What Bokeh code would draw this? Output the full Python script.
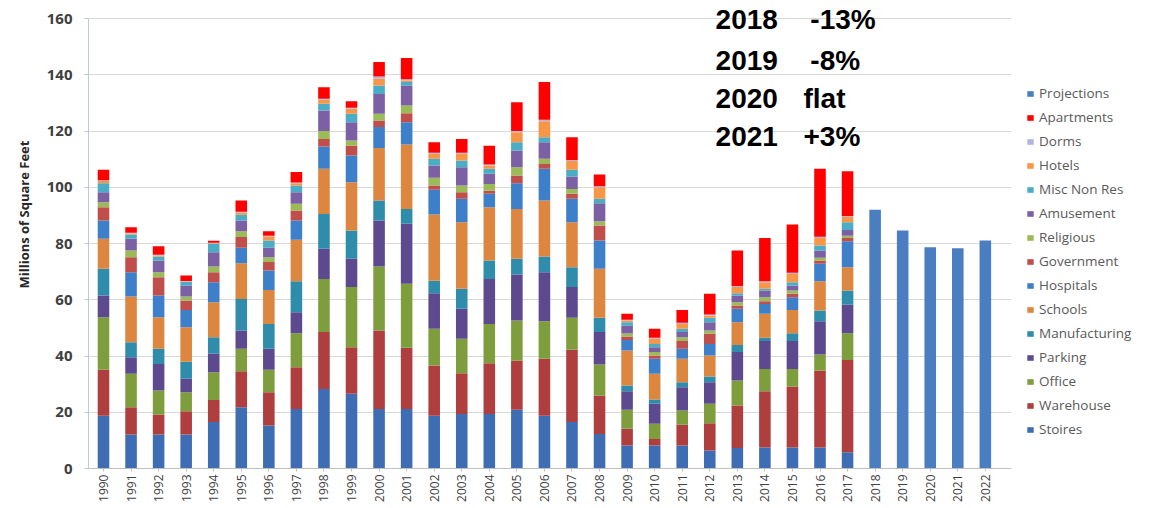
from bokeh.plotting import figure
from bokeh.models import (ColumnDataSource, Legend, LegendItem, Label, Range1d,
                          FixedTicker, BoxAnnotation, Title)
from bokeh.embed import file_html
from bokeh.resources import INLINE
from math import pi

years = list(range(1990, 2023))
hist_years = list(range(1990, 2018))
proj_years = [2018, 2019, 2020, 2021, 2022]
tick_labels = {y: str(y) for y in years}

# Millions of square feet per category, 1990-2017
stoires = [18.8, 12.1, 12.1, 12.1, 16.5, 21.8, 15.3, 21.2, 28.3, 26.6, 21.2, 21.2, 18.8, 19.4,
           19.4, 20.9, 18.8, 16.5, 12.3, 8.2, 8.2, 8.2, 6.4, 7.3, 7.5, 7.5, 7.5, 5.8]
warehouse = [16.3, 9.7, 7.1, 8.3, 7.9, 12.8, 11.8, 14.8, 20.2, 16.5, 27.9, 21.7, 17.8, 14.5,
             18.0, 17.5, 20.2, 25.7, 13.7, 5.9, 2.3, 7.4, 9.7, 15.1, 20.0, 21.7, 27.3, 32.8]
office = [18.7, 11.9, 8.5, 6.7, 9.8, 8.0, 8.0, 12.1, 18.9, 21.4, 22.7, 22.8, 13.1, 12.2,
          14.0, 14.2, 13.4, 11.4, 11.0, 6.8, 5.4, 5.0, 6.9, 8.9, 7.9, 6.2, 5.7, 9.5]
parking = [7.7, 5.9, 9.5, 4.8, 6.6, 6.5, 7.5, 7.5, 10.7, 10.1, 16.4, 21.3, 12.6, 10.7,
           16.0, 16.4, 17.4, 10.9, 11.5, 6.6, 7.1, 8.3, 7.7, 10.1, 9.9, 9.9, 11.9, 10.2]
manufacturing = [9.5, 5.3, 5.4, 6.1, 5.9, 11.2, 8.8, 11.0, 12.4, 10.0, 7.1, 5.3, 4.5, 7.1,
                 6.6, 5.6, 5.6, 7.1, 5.1, 2.0, 1.5, 1.8, 2.0, 2.5, 1.2, 2.8, 3.8, 5.0]
schools = [10.7, 16.3, 11.2, 12.2, 12.4, 12.7, 12.1, 14.7, 16.1, 17.2, 18.7, 22.9, 23.5, 23.7,
           18.9, 17.7, 19.9, 16.0, 17.4, 12.5, 9.2, 8.3, 7.5, 8.1, 8.5, 8.3, 10.4, 8.3]
hospitals = [6.5, 8.6, 7.7, 6.2, 7.1, 5.5, 6.9, 6.9, 7.9, 9.5, 7.4, 7.9, 8.8, 8.3,
             4.8, 9.1, 11.3, 8.3, 10.1, 3.7, 5.3, 3.6, 4.1, 4.8, 3.5, 4.5, 6.2, 9.2]
government = [4.7, 5.3, 6.5, 3.3, 3.6, 3.8, 3.0, 3.5, 2.7, 3.5, 2.3, 3.2, 1.5, 2.3,
              1.1, 2.8, 1.7, 1.8, 5.3, 1.2, 1.2, 2.7, 3.6, 1.2, 1.0, 1.2, 1.2, 1.2]
religious = [1.8, 2.4, 1.8, 1.5, 2.0, 2.1, 1.7, 2.4, 2.8, 1.8, 2.4, 2.8, 2.8, 2.4,
             2.4, 2.9, 1.8, 1.7, 1.5, 1.1, 1.2, 1.4, 1.2, 1.1, 1.4, 1.2, 0.9, 0.8]
amusement = [3.5, 4.2, 4.2, 3.9, 5.1, 3.8, 3.4, 4.1, 7.3, 6.5, 7.1, 7.1, 4.3, 6.5,
             3.6, 6.0, 5.9, 4.4, 6.4, 2.8, 1.7, 1.8, 2.9, 2.4, 2.4, 1.8, 2.6, 2.0]
misc_non_res = [3.2, 1.5, 1.4, 1.2, 3.0, 2.0, 2.6, 2.4, 2.4, 3.0, 3.0, 1.2, 2.4, 2.4,
                1.8, 2.9, 1.8, 2.4, 1.6, 1.2, 1.2, 1.2, 1.6, 0.8, 0.6, 1.1, 1.8, 2.8]
hotels = [0.8, 0.4, 0.3, 0.2, 0.2, 0.8, 1.4, 0.8, 1.4, 1.8, 2.4, 0.6, 1.8, 2.4,
          1.1, 3.6, 5.7, 3.1, 4.1, 0.6, 1.8, 1.7, 0.8, 2.2, 2.3, 3.0, 2.7, 1.8]
dorms = [0.3, 0.2, 0.3, 0.2, 0.2, 0.3, 0.3, 0.3, 0.4, 0.4, 0.8, 0.4, 0.4, 0.4,
         0.4, 0.4, 0.5, 0.4, 0.4, 0.3, 0.4, 0.4, 0.4, 0.4, 0.4, 0.4, 0.4, 0.4]
apartments = [3.7, 2.0, 3.0, 1.9, 0.7, 4.0, 1.6, 3.7, 4.1, 2.3, 5.1, 7.6, 3.7, 4.9,
              6.7, 10.2, 13.4, 8.1, 4.1, 2.1, 3.2, 4.6, 7.3, 12.6, 15.4, 17.2, 24.2, 15.9]
# Projections, 2018-2022
projections = [92.0, 84.6, 78.7, 78.3, 81.1]

series_names = ["Stoires", "Warehouse", "Office", "Parking", "Manufacturing", "Schools",
                "Hospitals", "Government", "Religious", "Amusement", "Misc Non Res",
                "Hotels", "Dorms", "Apartments", "Projections"]
series_values = [stoires, warehouse, office, parking, manufacturing, schools, hospitals,
                 government, religious, amusement, misc_non_res, hotels, dorms, apartments]
colors = ["#3F6DB3", "#AE3F3E", "#7E9E3E", "#5D4A8E", "#2F8CAA", "#DC8640",
          "#3E7FC9", "#C04E4B", "#9BBB59", "#7B60A3", "#4BACC6", "#F79646",
          "#B3B3DC", "#FF0000", "#4A7EC0"]

y_ticks = [0, 20, 40, 60, 80, 100, 120, 140, 160]

ann_years = ["2018", "2019", "2020", "2021"]
ann_changes = ["-13%", "-8%", "flat", "+3%"]
ann_y = [159.6, 145.1, 131.6, 118.1]
ann_change_x = [2015.65, 2015.65, 2015.40, 2015.40]
ann_year_x = 2012.21

n_proj = len(proj_years)
n_hist = len(hist_years)
data = {"year": years}
for name, vals in zip(series_names[:-1], series_values):
    data[name] = list(vals) + [0.0] * n_proj
data["Projections"] = [0.0] * n_hist + list(projections)
source = ColumnDataSource(data)

x_left = 1989.456
x_axis_end = 2022.95
p = figure(x_range=Range1d(x_left, 2027.92), y_range=Range1d(0, 166.4),
           width=1148, height=505, output_backend="svg", toolbar_location=None,
           title=None, min_border_left=88, min_border_right=0,
           min_border_top=0, min_border_bottom=37)
p.outline_line_color = None
p.background_fill_color = "white"

renderers = p.vbar_stack(series_names, x="year", width=0.42, color=colors,
                         source=source, line_color=None)

# hide gridlines to the right of the plotting area (legend region)
p.add_layout(BoxAnnotation(left=x_axis_end, fill_color="white", fill_alpha=1.0,
                           line_color=None))

legend = Legend(items=[LegendItem(label=n, renderers=[r])
                       for n, r in reversed(list(zip(series_names, renderers)))],
                location=(938, 29), orientation="vertical")
legend.background_fill_alpha = 0
legend.border_line_color = None
legend.padding = 0
legend.margin = 0
legend.spacing = 4
legend.label_height = 20
legend.glyph_height = 7
legend.glyph_width = 8
legend.label_standoff = 5
legend.label_text_font = "Open Sans"
legend.label_text_font_size = "13.5px"
legend.label_text_color = "#595959"
legend.label_text_baseline = "middle"
p.add_layout(legend, "center")

p.xgrid.grid_line_color = None
p.ygrid.grid_line_color = "#D9D9D9"
p.ygrid.grid_line_width = 1.2

p.yaxis.ticker = FixedTicker(ticks=y_ticks)
p.yaxis.bounds = (0, 160)
p.yaxis.major_label_text_font = "Open Sans"
p.yaxis.major_label_text_font_style = "bold"
p.yaxis.major_label_text_font_size = "15px"
p.yaxis.major_label_text_color = "#404040"
p.yaxis.major_label_standoff = 12
p.yaxis.axis_line_color = "#BFC8D6"
p.yaxis.major_tick_line_color = "#BFC8D6"
p.yaxis.major_tick_out = 4
p.yaxis.major_tick_in = 0
p.yaxis.minor_tick_line_color = None

# y axis title, placed like the reference (a little above the frame's centre)
ytitle = Title(text="Millions of Square Feet", align="left", offset=180,
               text_font="Open Sans", text_font_style="bold", text_font_size="13px",
               text_color="#262626", standoff=21)
p.add_layout(ytitle, "left")

p.xaxis.ticker = FixedTicker(ticks=years)
p.xaxis.major_label_overrides = tick_labels
p.xaxis.bounds = (x_left, x_axis_end)
p.xaxis.major_label_orientation = pi / 2
p.xaxis.major_label_text_font = "Open Sans"
p.xaxis.major_label_text_font_size = "12px"
p.xaxis.major_label_text_color = "#404040"
p.xaxis.major_label_standoff = 3
p.xaxis.axis_line_color = "#BFBFBF"
p.xaxis.major_tick_line_color = "#BFBFBF"
p.xaxis.major_tick_out = 3
p.xaxis.major_tick_in = 0
p.xaxis.minor_tick_line_color = None

for yr, ch, yv, cx in zip(ann_years, ann_changes, ann_y, ann_change_x):
    p.add_layout(Label(x=ann_year_x, y=yv, text=yr, text_font="Liberation Sans",
                       text_font_style="bold", text_font_size="28px",
                       text_color="black", text_baseline="middle"))
    p.add_layout(Label(x=cx, y=yv, text=ch, text_font="Liberation Sans",
                       text_font_style="bold", text_font_size="28px",
                       text_color="black", text_baseline="middle"))

open("out.html", "w").write(file_html(p, INLINE))
